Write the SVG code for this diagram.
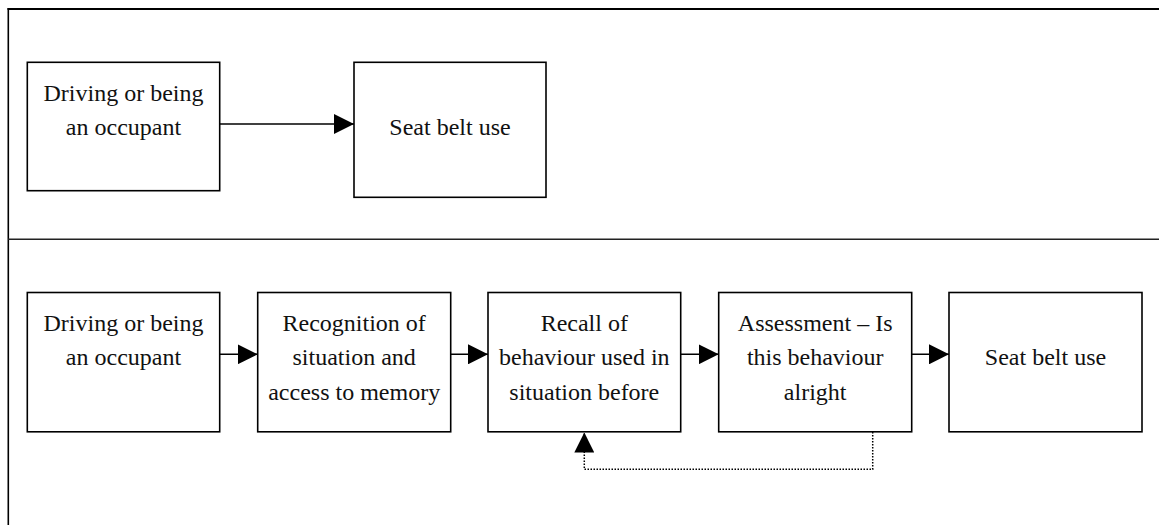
<svg xmlns="http://www.w3.org/2000/svg" width="1159" height="525" viewBox="0 0 1159 525">
<style>
.box{fill:#fff;stroke:#000;stroke-width:1.6}
.t{font-family:"Liberation Serif","Times New Roman",serif;font-size:24px;fill:#111;text-anchor:middle}
.c{fill:none;stroke:#000;stroke-width:1.6}
.d{fill:none;stroke:#000;stroke-width:1.5;stroke-dasharray:1.5 1.5}
</style>
<defs>
<marker id="ah" viewBox="0 0 20 20" markerWidth="20" markerHeight="20" refX="20" refY="10" orient="auto" markerUnits="userSpaceOnUse">
<path d="M0,0 L20,10 L0,20 z" fill="#000"/>
</marker>
</defs>
<rect width="1159" height="525" fill="#fff"/>
<g id="frame">
<line x1="7.5" y1="9" x2="1159" y2="9" stroke="#000" stroke-width="2.2"/>
<line x1="8.3" y1="8" x2="8.3" y2="525" stroke="#000" stroke-width="1.6"/>
<line x1="8" y1="239.2" x2="1159" y2="239.2" stroke="#222" stroke-width="1.6"/>
</g>
<g id="top-driving">
<rect class="box" x="27.3" y="62.3" width="192.4" height="128.4"/>
<text class="t" x="123.5" y="100.7">Driving or being</text>
<text class="t" x="123.5" y="135.2">an occupant</text>
</g>
<g id="top-seatbelt">
<rect class="box" x="354" y="62.3" width="192" height="135"/>
<text class="t" x="450" y="135.2">Seat belt use</text>
</g>
<g id="low-driving">
<rect class="box" x="27.3" y="292.5" width="192.4" height="139.3"/>
<text class="t" x="123.5" y="330.7">Driving or being</text>
<text class="t" x="123.5" y="365.2">an occupant</text>
</g>
<g id="low-recognition">
<rect class="box" x="257.7" y="292.5" width="193" height="139.3"/>
<text class="t" x="354.2" y="330.7">Recognition of</text>
<text class="t" x="354.2" y="365.2">situation and</text>
<text class="t" x="354.2" y="399.7">access to memory</text>
</g>
<g id="low-recall">
<rect class="box" x="488" y="292.5" width="192.7" height="139.3"/>
<text class="t" x="584.3" y="330.7">Recall of</text>
<text class="t" x="584.3" y="365.2">behaviour used in</text>
<text class="t" x="584.3" y="399.7">situation before</text>
</g>
<g id="low-assessment">
<rect class="box" x="718.7" y="292.5" width="193" height="139.3"/>
<text class="t" x="815.2" y="330.7">Assessment – Is</text>
<text class="t" x="815.2" y="365.2">this behaviour</text>
<text class="t" x="815.2" y="399.7">alright</text>
</g>
<g id="low-seatbelt">
<rect class="box" x="949" y="292.5" width="193" height="139.3"/>
<text class="t" x="1045.5" y="365.2">Seat belt use</text>
</g>
<g id="connectors">
<line class="c" x1="219.7" y1="124" x2="354" y2="124" marker-end="url(#ah)"/>
<line class="c" x1="219.7" y1="354.3" x2="257.7" y2="354.3" marker-end="url(#ah)"/>
<line class="c" x1="450.7" y1="354.3" x2="488" y2="354.3" marker-end="url(#ah)"/>
<line class="c" x1="680.7" y1="354.3" x2="718.7" y2="354.3" marker-end="url(#ah)"/>
<line class="c" x1="911.7" y1="354.3" x2="949" y2="354.3" marker-end="url(#ah)"/>
<path class="d" d="M872.7,432 V469.3 H584.3 V432.5" marker-end="url(#ah)"/>
</g>
</svg>
